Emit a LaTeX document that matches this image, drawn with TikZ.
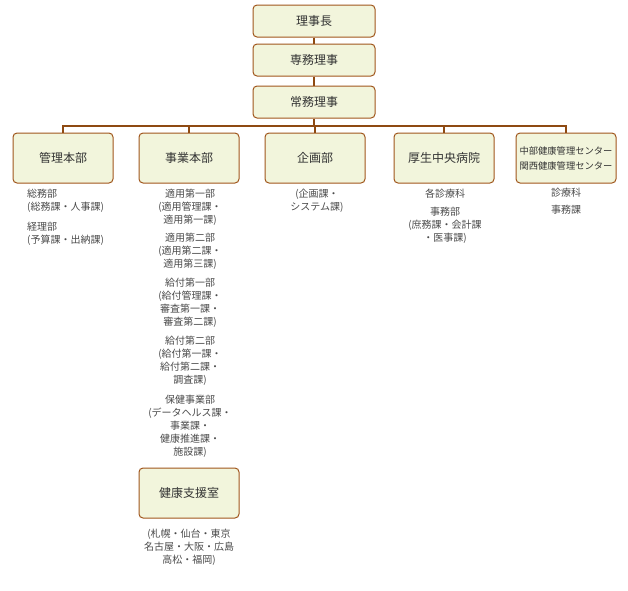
\documentclass[tikz,border=0pt]{standalone}
\usepackage{fontspec}
\setmainfont{Noto Sans CJK JP}
\usetikzlibrary{positioning}
\definecolor{boxfill}{HTML}{F2F5DC}
\definecolor{boxline}{HTML}{A0561C}
\definecolor{linkline}{HTML}{8E4A12}
\definecolor{boxtext}{HTML}{333333}
\definecolor{subtext}{HTML}{4A4A4A}

\begin{document}
\begin{tikzpicture}[x=1pt,y=-1pt,
    box/.style={draw=boxline, fill=boxfill, rounded corners=4pt, line width=1pt, minimum width=122pt, minimum height=32pt, font=\fontsize{12}{14}\selectfont, text=boxtext, inner sep=0pt},
    unit/.style={box, minimum width=100pt, minimum height=50pt},
    sub/.style={font=\fontsize{10}{13}\selectfont, text=subtext, align=center, anchor=north, inner sep=0pt},
    link/.style={draw=linkline, line width=1.5pt}
]
\useasboundingbox (0,0) rectangle (628,590);

\node[box] (chair) at (314,21) {理事長};
\node[box] (senmu) at (314,60) {専務理事};
\node[box] (jomu) at (314,102) {常務理事};
\coordinate (bus) at (314,126);

\node[unit] (kanri) at (63,158) {管理本部};
\node[unit] (jigyo) at (189,158) {事業本部};
\node[unit] (kikaku) at (315,158) {企画部};
\node[unit] (hosp) at (444,158) {厚生中央病院};
\node[unit, font=\fontsize{9.3}{15}\selectfont, align=center] (center) at (566,158) {中部健康管理センター\\関西健康管理センター};
\node[unit] (shien) at (189,493) {健康支援室};

\draw[link] (chair) -- (senmu);
\draw[link] (senmu) -- (jomu);
\draw[link] (jomu) -- (bus);
\foreach \u in {kanri,jigyo,kikaku,hosp,center}
    \draw[link] (\u.north) |- (bus);

\node[sub, align=left, anchor=north west] (kanri-sub) at (27,189) {総務部\\(総務課・人事課)\\[7pt]経理部\\(予算課・出納課)};
\node[sub] (jigyo-sub) at (190,189) {適用第一部\\(適用管理課・\\適用第一課)\\[5pt]適用第二部\\(適用第二課・\\適用第三課)\\[6pt]給付第一部\\(給付管理課・\\審査第一課・\\審査第二課)\\[6pt]給付第二部\\(給付第一課・\\給付第二課・\\調査課)\\[7pt]保健事業部\\(データヘルス課・\\事業課・\\健康推進課・\\施設課)};
\node[sub] (kikaku-sub) at (317,189) {(企画課・\\システム課)};
\node[sub] (hosp-sub) at (445,189) {各診療科\\[5pt]事務部\\(庶務課・会計課\\・医事課)};
\node[sub] (center-sub) at (566,188) {診療科\\[4pt]事務課};
\node[sub] (shien-sub) at (189,529) {(札幌・仙台・東京\\名古屋・大阪・広島\\高松・福岡)};
\end{tikzpicture}
\end{document}
